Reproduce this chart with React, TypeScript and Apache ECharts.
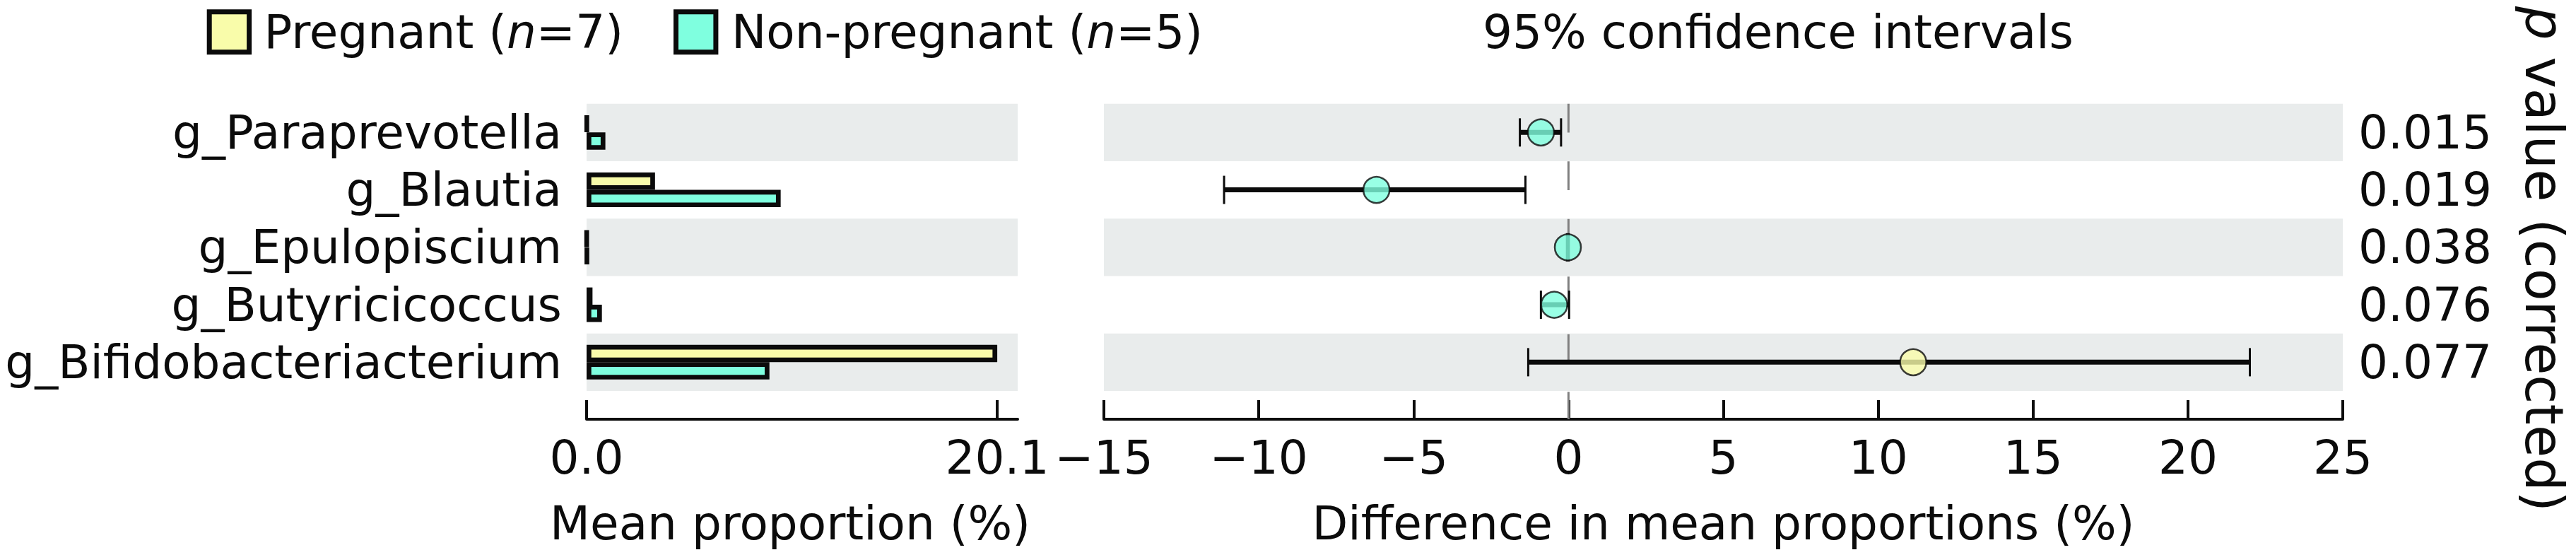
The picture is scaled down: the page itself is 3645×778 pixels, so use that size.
import React, { useEffect, useRef } from 'react';
import * as echarts from 'echarts';

const categories = ['g_Paraprevotella', 'g_Blautia', 'g_Epulopiscium', 'g_Butyricicoccus', 'g_Bifidobacteriacterium'];
const pregnant = [0.02, 3.35, 0.01, 0.29, 20.1];
const nonPregnant = [0.92, 9.5, 0.03, 0.75, 8.95];
const diffMean = [-0.89, -6.2, -0.02, -0.46, 11.13];
const ciLow = [-1.57, -11.12, -0.05, -0.89, -1.3];
const ciHigh = [-0.24, -1.39, 0.01, 0.02, 22.0];
const pValues = ['0.015', '0.019', '0.038', '0.076', '0.077'];
const leftTicks = [0, 20.1];

const FONT = 'DejaVu Sans';
const TXT = '#0b0b0b';
const YEL = '#f9fcaa';
const CYN = '#7fffdf';
const BAND = '#e9ecec';
const FS = 66;

export default function App() {
  const ref = useRef<HTMLDivElement>(null);
  useEffect(() => {
    if (!ref.current) return;
    const chart = echarts.init(ref.current, undefined, { renderer: 'svg' });
    const gridTop = 146.7;
    const gridH = 407.6;
    const axisOffset = 40;
    const labelStyle = { fontSize: FS, fontFamily: FONT, color: TXT };
    const option: any = {
      animation: false,
      backgroundColor: '#ffffff',
      textStyle: { fontFamily: FONT },
      grid: [
        { left: 830, top: gridTop, width: 610, height: gridH },
        { left: 1562, top: gridTop, width: 1753, height: gridH },
      ],
      xAxis: [
        {
          gridIndex: 0,
          type: 'value',
          min: 0,
          max: 21.1,
          offset: axisOffset,
          axisLine: { show: true, lineStyle: { color: TXT, width: 4 } },
          axisTick: { show: true, inside: true, length: 27, customValues: leftTicks, lineStyle: { color: TXT, width: 4 } },
          axisLabel: { ...labelStyle, customValues: leftTicks, margin: 21, formatter: (v: number) => v.toFixed(1) },
          splitLine: { show: false },
          name: 'Mean proportion (%)',
          nameLocation: 'middle',
          nameGap: 114,
          nameTextStyle: { ...labelStyle, padding: [0, 34, 0, 0] },
        },
        {
          gridIndex: 1,
          type: 'value',
          min: -15,
          max: 25,
          interval: 5,
          offset: axisOffset,
          axisLine: { show: true, lineStyle: { color: TXT, width: 4 } },
          axisTick: { show: true, inside: true, length: 27, lineStyle: { color: TXT, width: 4 } },
          axisLabel: {
            ...labelStyle,
            margin: 21,
            formatter: (v: number) => (v < 0 ? '\u2212' + Math.abs(v) : String(v)),
          },
          splitLine: { show: false },
          name: 'Difference in mean proportions (%)',
          nameLocation: 'middle',
          nameGap: 114,
          nameTextStyle: { ...labelStyle },
        },
      ],
      yAxis: [
        {
          gridIndex: 0,
          type: 'category',
          data: categories,
          inverse: true,
          axisLine: { show: false },
          axisTick: { show: false },
          axisLabel: { ...labelStyle, margin: 35, interval: 0 },
          splitLine: { show: false },
          splitArea: { show: true, interval: 0, areaStyle: { color: [BAND, 'rgba(255,255,255,0)'] } },
        },
        {
          gridIndex: 1,
          type: 'category',
          data: categories,
          inverse: true,
          position: 'right',
          axisLine: { show: false },
          axisTick: { show: false },
          axisLabel: { ...labelStyle, margin: 22, interval: 0, align: 'left', formatter: (_v: string, i: number) => pValues[i] },
          splitLine: { show: false },
          splitArea: { show: true, interval: 0, areaStyle: { color: [BAND, 'rgba(255,255,255,0)'] } },
        },
      ],
      series: [
        {
          type: 'bar',
          name: 'Pregnant',
          xAxisIndex: 0,
          yAxisIndex: 0,
          data: pregnant,
          barWidth: 24.5,
          barGap: '0%',
          itemStyle: { color: YEL, borderColor: TXT, borderWidth: 6.7 },
        },
        {
          type: 'bar',
          name: 'Non-pregnant',
          xAxisIndex: 0,
          yAxisIndex: 0,
          data: nonPregnant,
          barWidth: 24.5,
          barGap: '0%',
          itemStyle: { color: CYN, borderColor: TXT, borderWidth: 6.7 },
        },
        {
          type: 'custom',
          name: 'zero',
          xAxisIndex: 1,
          yAxisIndex: 1,
          silent: true,
          z: 1,
          data: [[0, 0]],
          renderItem: (params: any, api: any) => {
            const cs = params.coordSys;
            const x = api.coord([0, 0])[0];
            return {
              type: 'line',
              shape: { x1: x, y1: cs.y, x2: x, y2: cs.y + cs.height + axisOffset },
              style: { stroke: '#808080', lineWidth: 3, lineDash: [gridH / 10, gridH / 10] },
            };
          },
        },
        {
          type: 'custom',
          name: 'ci',
          xAxisIndex: 1,
          yAxisIndex: 1,
          z: 2,
          encode: { x: [0, 1], y: 2 },
          data: categories.map((_c, i) => [ciLow[i], ciHigh[i], i]),
          renderItem: (_params: any, api: any) => {
            const lo = api.coord([api.value(0), api.value(2)]);
            const hi = api.coord([api.value(1), api.value(2)]);
            const h = 40;
            return {
              type: 'group',
              children: [
                { type: 'line', shape: { x1: lo[0], y1: lo[1], x2: hi[0], y2: hi[1] }, style: { stroke: TXT, lineWidth: 7 } },
                { type: 'line', shape: { x1: lo[0], y1: lo[1] - h / 2, x2: lo[0], y2: lo[1] + h / 2 }, style: { stroke: TXT, lineWidth: 3 } },
                { type: 'line', shape: { x1: hi[0], y1: hi[1] - h / 2, x2: hi[0], y2: hi[1] + h / 2 }, style: { stroke: TXT, lineWidth: 3 } },
              ],
            };
          },
        },
        {
          type: 'scatter',
          name: 'mean',
          xAxisIndex: 1,
          yAxisIndex: 1,
          z: 3,
          symbol: 'circle',
          symbolSize: 37,
          data: diffMean.map((v, i) => ({ value: [v, i], itemStyle: { color: v > 0 ? YEL : CYN } })),
          itemStyle: { borderColor: TXT, borderWidth: 2.5 },
        },
      ],
      graphic: [
        { type: 'rect', shape: { x: 296.2, y: 16.8, width: 56.4, height: 57 }, style: { fill: YEL, stroke: TXT, lineWidth: 7 } },
        {
          type: 'text', x: 373.5, y: 45,
          style: { text: 'Pregnant ({i|n}=7)', fontSize: FS, fontFamily: FONT, fill: TXT, align: 'left', verticalAlign: 'middle',
            rich: { i: { fontStyle: 'italic', fontSize: FS, fontFamily: FONT, fill: TXT } } },
        },
        { type: 'rect', shape: { x: 956.5, y: 16.8, width: 56.4, height: 57 }, style: { fill: CYN, stroke: TXT, lineWidth: 7 } },
        {
          type: 'text', x: 1035, y: 45,
          style: { text: 'Non-pregnant ({i|n}=5)', fontSize: FS, fontFamily: FONT, fill: TXT, align: 'left', verticalAlign: 'middle',
            rich: { i: { fontStyle: 'italic', fontSize: FS, fontFamily: FONT, fill: TXT } } },
        },
        {
          type: 'text', x: 2098, y: 45,
          style: { text: '95% confidence intervals', fontSize: FS, fontFamily: FONT, fill: TXT, align: 'left', verticalAlign: 'middle' },
        },
        {
          type: 'text', x: 3600, y: 9, rotation: -Math.PI / 2,
          style: { text: '{i|p} value (corrected)', fontSize: 75, fontFamily: FONT, fill: TXT, align: 'left', verticalAlign: 'middle',
            rich: { i: { fontStyle: 'italic', fontSize: 75, fontFamily: FONT, fill: TXT } } },
        },
      ],
    };
    chart.setOption(option);
    return () => chart.dispose();
  }, []);
  return <div ref={ref} style={{ position: 'fixed', left: 0, top: 0, width: 3645, height: 778 }} />;
}
